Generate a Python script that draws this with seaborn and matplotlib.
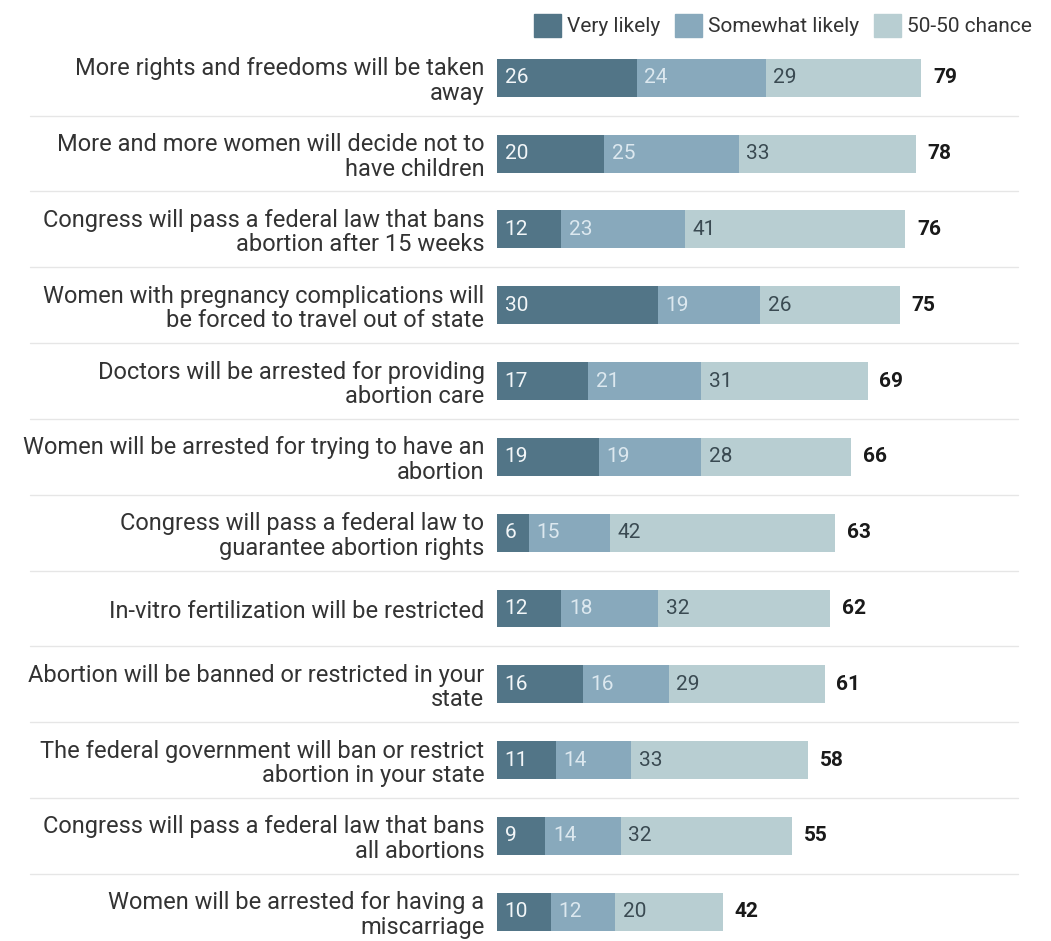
import numpy as np
import pandas as pd
import matplotlib
matplotlib.use('Agg')
import matplotlib.pyplot as plt
import matplotlib.patches as mpatches
import seaborn as sns

# Data
STATEMENTS = [
    "More rights and freedoms will be taken\naway",
    "More and more women will decide not to\nhave children",
    "Congress will pass a federal law that bans\nabortion after 15 weeks",
    "Women with pregnancy complications will\nbe forced to travel out of state",
    "Doctors will be arrested for providing\nabortion care",
    "Women will be arrested for trying to have an\nabortion",
    "Congress will pass a federal law to\nguarantee abortion rights",
    "In-vitro fertilization will be restricted",
    "Abortion will be banned or restricted in your\nstate",
    "The federal government will ban or restrict\nabortion in your state",
    "Congress will pass a federal law that bans\nall abortions",
    "Women will be arrested for having a\nmiscarriage",
]
very_likely = [26, 20, 12, 30, 17, 19, 6, 12, 16, 11, 9, 10]
somewhat_likely = [24, 25, 23, 19, 21, 19, 15, 18, 16, 14, 14, 12]
fifty_fifty = [29, 33, 41, 26, 31, 28, 42, 32, 29, 33, 32, 20]
totals = [79, 78, 76, 75, 69, 66, 63, 62, 61, 58, 55, 42]

SERIES = ["Very likely", "Somewhat likely", "50-50 chance"]
COLORS = ["#527587", "#88a9bc", "#b8ced2"]
TEXT_COLORS = ["#f2f6f8", "#dce8ef", "#3a4a52"]

sns.set_style("white")
plt.rcParams['font.family'] = ['Roboto', 'DejaVu Sans']

df = pd.DataFrame({
    "statement": STATEMENTS,
    "Very likely": very_likely,
    "Somewhat likely": somewhat_likely,
    "50-50 chance": fifty_fifty,
})
df["c1"] = df["Very likely"]
df["c2"] = df["c1"] + df["Somewhat likely"]
df["c3"] = df["c2"] + df["50-50 chance"]

W, H = 1051, 941
fig = plt.figure(figsize=(W / 100, H / 100), dpi=100)
ax_top_px = 55
ax = fig.add_axes([497 / W, 0, 537 / W, (H - ax_top_px) / H])

# stacked bars: draw cumulative totals back to front
for col, color in zip(["c3", "c2", "c1"], COLORS[::-1]):
    sns.barplot(data=df, x=col, y="statement", orient="h", color=color,
                width=0.5, saturation=1, linewidth=0, ax=ax, order=STATEMENTS)

ax.set_xlim(0, 100)
ax.set_ylim(11.385, -0.3)

# segment values
starts = [np.zeros(len(df)), df["c1"].values, df["c2"].values]
vals = [df["Very likely"].values, df["Somewhat likely"].values, df["50-50 chance"].values]
for s, v, tc in zip(starts, vals, TEXT_COLORS):
    for i in range(len(df)):
        ax.text(s[i] + 1.4, i, str(v[i]), va="center", ha="left",
                fontsize=15, color=tc)

# totals
for i, t in enumerate(totals):
    ax.text(df["c3"].iloc[i] + 2.2, i, str(t), va="center", ha="left",
            fontsize=15, fontweight="bold", color="#1a1a1a")

# row separators
for k in range(len(df) - 1):
    ax.axhline(k + 0.5, xmin=-0.87, xmax=0.97, color="#e6e6e6", lw=1, clip_on=False)

ax.set_xlabel("")
ax.set_ylabel("")
ax.set_xticks([])
ax.tick_params(axis="y", length=0, pad=9, labelsize=17, labelcolor="#333333")
for lab in ax.get_yticklabels():
    lab.set_multialignment("right")
    lab.set_linespacing(1.08)
sns.despine(ax=ax, left=True, bottom=True)

handles = [mpatches.Patch(color=c, label=l) for c, l in zip(COLORS, SERIES)]
fig.legend(handles=handles, loc="upper right", bbox_to_anchor=(1.0, 1.005), ncol=3,
           frameon=False, fontsize=15, handlelength=1.3, handleheight=1.3,
           handletextpad=0.3, columnspacing=0.7, labelcolor="#333333")

fig.savefig("out.png", dpi=100)
